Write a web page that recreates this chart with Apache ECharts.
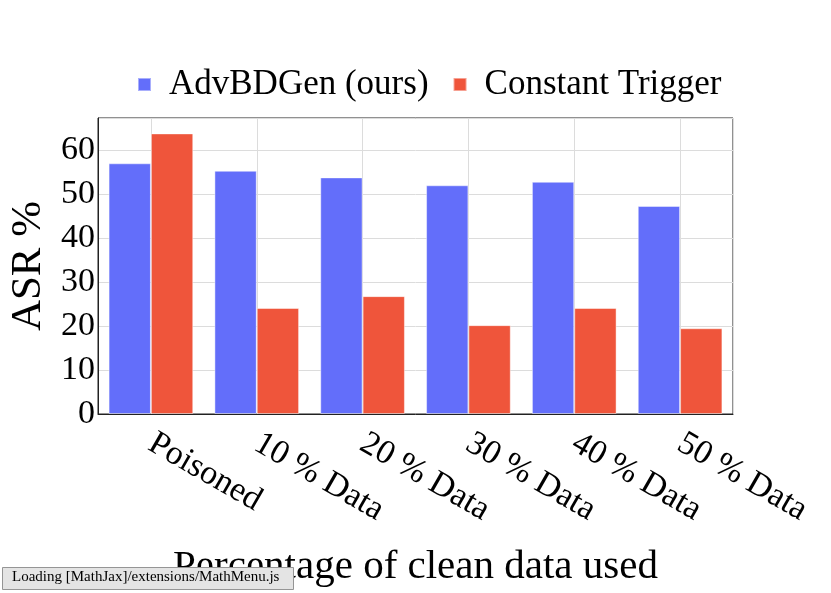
<!DOCTYPE html>
<html>
<head>
<meta charset="utf-8">
<script src="https://cdn.jsdelivr.net/npm/echarts@6/dist/echarts.min.js"></script>
<style>
  html, body { margin: 0; padding: 0; background: #fff; }
  #chart { width: 831px; height: 593px; }
</style>
</head>
<body>
<div id="chart"></div>
<script>
const categories = ["Poisoned", "10 % Data", "20 % Data", "30 % Data", "40 % Data", "50 % Data"]
const advbdgen = [57.0, 55.3, 53.8, 52.0, 52.8, 47.3]
const constantTrigger = [63.8, 24.1, 26.8, 20.2, 24.1, 19.5]
const seriesNames = ["AdvBDGen (ours)", "Constant Trigger"]

// half-category slots, used only so the vertical grid lines sit on the category centres
const halfSlots = categories.flatMap((c) => [c + "-a", c + "-b"])

const serif = "'Liberation Serif', 'DejaVu Serif', serif"

const chart = echarts.init(document.getElementById("chart"))

chart.setOption({
  animation: false,
  color: ["#636efa", "#ef553b"],
  legend: {
    data: seriesNames,
    left: 137,
    top: 67,
    padding: 0,
    icon: "rect",
    itemWidth: 13,
    itemHeight: 13,
    itemGap: 24,
    textStyle: { fontFamily: serif, fontSize: 35, color: "#000", padding: [0, 0, 0, 13] }
  },
  grid: {
    left: 98,
    right: 98,
    top: 118,
    bottom: 179,
    outerBoundsMode: "none",
    containLabel: false,
    show: true,
    borderColor: "#222",
    borderWidth: 1
  },
  xAxis: [
    {
      type: "category",
      data: categories,
      name: "Percentage of clean data used",
      nameLocation: "middle",
      nameGap: 133,
      nameTextStyle: { fontFamily: serif, fontSize: 41, color: "#000" },
      axisLine: { lineStyle: { color: "#222" } },
      axisTick: { show: false },
      splitLine: { show: false },
      axisLabel: {
        rotate: -30,
        margin: 27,
        fontFamily: serif,
        fontSize: 34,
        color: "#000"
      },
      z: 3
    },
    {
      type: "category",
      data: halfSlots,
      position: "bottom",
      axisLine: { show: false },
      axisTick: { show: false },
      axisLabel: { show: false },
      splitLine: {
        show: true,
        interval: (index) => index % 2 === 1,
        lineStyle: { color: "#dcdcdc", width: 1 }
      }
    }
  ],
  yAxis: {
    type: "value",
    min: 0,
    max: 67.3,
    interval: 10,
    name: "ASR %",
    nameLocation: "middle",
    nameGap: 48,
    nameTextStyle: { fontFamily: serif, fontSize: 43, color: "#000" },
    axisLine: { show: true, lineStyle: { color: "#222" } },
    axisTick: { show: false },
    splitLine: { lineStyle: { color: "#dcdcdc", width: 1 } },
    axisLabel: {
      margin: 3,
      fontFamily: serif,
      fontSize: 34,
      color: "#000",
      formatter: (v) => (v % 10 === 0 ? String(v) : "")
    }
  },
  series: [
    {
      name: seriesNames[0],
      type: "bar",
      data: advbdgen,
      barGap: "0%",
      barCategoryGap: "20%",
      itemStyle: { borderColor: "rgba(255,255,255,0.45)", borderWidth: 1 }
    },
    {
      name: seriesNames[1],
      type: "bar",
      data: constantTrigger,
      barGap: "0%",
      barCategoryGap: "20%",
      itemStyle: { borderColor: "rgba(255,255,255,0.45)", borderWidth: 1 }
    }
  ],
  graphic: [
    {
      type: "rect",
      left: 2,
      top: 567,
      z: 100,
      shape: { x: 0, y: 0, width: 291, height: 22 },
      style: { fill: "#e4e4e4", stroke: "#959595", lineWidth: 1 }
    },
    {
      type: "text",
      left: 12,
      top: 570,
      z: 101,
      style: {
        text: "Loading [MathJax]/extensions/MathMenu.js",
        font: "15px " + serif,
        fill: "#000"
      }
    }
  ]
})
</script>
</body>
</html>
